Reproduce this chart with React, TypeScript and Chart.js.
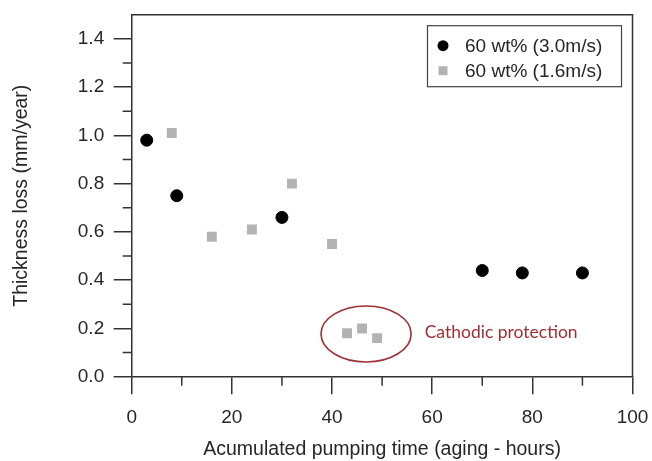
import React, { useEffect, useRef } from 'react';
import { Chart, registerables } from 'chart.js';

Chart.register(...registerables);

// ---- data ----
const seriesLabels = ['60 wt% (3.0m/s)', '60 wt% (1.6m/s)'];
const fastX = [3, 9, 30, 70, 78, 90];
const fastY = [0.98, 0.75, 0.66, 0.44, 0.43, 0.43];
const slowX = [8, 16, 24, 32, 40, 43, 46, 49];
const slowY = [1.01, 0.58, 0.61, 0.8, 0.55, 0.18, 0.2, 0.16];
const xTicks = [0, 20, 40, 60, 80, 100];
const xMinorTicks = [10, 30, 50, 70, 90];
const yTicks = [0, 0.2, 0.4, 0.6, 0.8, 1.0, 1.2, 1.4];
const yMinorTicks = [0.1, 0.3, 0.5, 0.7, 0.9, 1.1, 1.3];
const xTitle = 'Acumulated pumping time (aging - hours)';
const yTitle = 'Thickness loss (mm/year)';
const noteText = 'Cathodic protection';
// annotation (data coordinates)
const noteEllipse = { x: 46.8, y: 0.177, rx: 9, ry: 0.116 };
const noteTextPos = { x: 58.5, y: 0.183 };

const FONT = "'Liberation Sans', Arial, sans-serif";
const TEXT = '#262626';
const AXIS = '#333333';
const BLACK = '#000000';
const GRAY = '#b3b3b3';
const NOTE = '#9e3035';

const decorPlugin = {
  id: 'decor',
  afterDraw(chart: any) {
    const ctx = chart.ctx;
    const { left, right, top, bottom } = chart.chartArea;
    const xs = chart.scales.x;
    const ys = chart.scales.y;
    ctx.save();
    // frame top/right
    ctx.strokeStyle = AXIS;
    ctx.lineWidth = 1.5;
    ctx.beginPath();
    ctx.moveTo(left, top);
    ctx.lineTo(right, top);
    ctx.lineTo(right, bottom);
    ctx.stroke();
    // minor ticks
    ctx.beginPath();
    xMinorTicks.forEach((v) => {
      const px = xs.getPixelForValue(v);
      ctx.moveTo(px, bottom);
      ctx.lineTo(px, bottom + 9);
    });
    yMinorTicks.forEach((v) => {
      const py = ys.getPixelForValue(v);
      ctx.moveTo(left, py);
      ctx.lineTo(left - 9, py);
    });
    ctx.stroke();

    // annotation ellipse + text
    const cx = xs.getPixelForValue(noteEllipse.x);
    const cy = ys.getPixelForValue(noteEllipse.y);
    const rx = Math.abs(xs.getPixelForValue(noteEllipse.x + noteEllipse.rx) - cx);
    const ry = Math.abs(ys.getPixelForValue(noteEllipse.y + noteEllipse.ry) - cy);
    ctx.strokeStyle = NOTE;
    ctx.lineWidth = 1.6;
    ctx.beginPath();
    ctx.ellipse(cx, cy, rx, ry, 0, 0, Math.PI * 2);
    ctx.stroke();
    ctx.fillStyle = NOTE;
    ctx.font = "17.5px Lato, 'Open Sans', sans-serif";
    ctx.textAlign = 'left';
    ctx.textBaseline = 'middle';
    ctx.fillText(noteText, xs.getPixelForValue(noteTextPos.x), ys.getPixelForValue(noteTextPos.y));

    // legend box
    const bw = 194, bh = 61;
    const bx = right - 11 - bw;
    const by = top + 11;
    ctx.fillStyle = '#ffffff';
    ctx.fillRect(bx, by, bw, bh);
    ctx.strokeStyle = '#444444';
    ctx.lineWidth = 1.2;
    ctx.strokeRect(bx, by, bw, bh);
    chart.data.datasets.forEach((ds: any, i: number) => {
      const my = by + 20 + i * 25;
      const mx = bx + 15.5;
      ctx.fillStyle = ds.backgroundColor;
      if (ds.pointStyle === 'rect') {
        ctx.fillRect(mx - 4.5, my - 4.5, 9, 9);
      } else {
        ctx.beginPath();
        ctx.arc(mx, my, 5.5, 0, Math.PI * 2);
        ctx.fill();
      }
      ctx.fillStyle = TEXT;
      ctx.font = `19px ${FONT}`;
      ctx.textAlign = 'left';
      ctx.textBaseline = 'middle';
      ctx.fillText(ds.label, bx + 37.5, my + 1);
    });
    ctx.restore();
  },
};

export default function App() {
  const ref = useRef<HTMLCanvasElement>(null);
  useEffect(() => {
    if (!ref.current) return;
    const chart = new Chart(ref.current, {
      type: 'scatter',
      data: {
        datasets: [
          {
            label: seriesLabels[0],
            data: fastX.map((x, i) => ({ x, y: fastY[i] })),
            backgroundColor: BLACK,
            borderColor: BLACK,
            pointStyle: 'circle',
            pointRadius: 6,
            pointBorderWidth: 1,
          },
          {
            label: seriesLabels[1],
            data: slowX.map((x, i) => ({ x, y: slowY[i] })),
            backgroundColor: GRAY,
            borderColor: GRAY,
            pointStyle: 'rect',
            pointRadius: 7,
            pointBorderWidth: 0,
          },
        ],
      },
      options: {
        responsive: false,
        animation: false,
        layout: { padding: { top: 14.7, right: 19.5, left: 0, bottom: 0 } },
        plugins: {
          legend: { display: false },
          tooltip: { enabled: false },
        },
        scales: {
          x: {
            type: 'linear',
            min: 0,
            max: 100,
            afterBuildTicks: (s: any) => {
              s.ticks = xTicks.map((v) => ({ value: v }));
            },
            afterFit: (s: any) => {
              s.height = 84.3;
              s.paddingLeft = 0;
              s.paddingRight = 0;
            },
            grid: {
              display: true,
              drawOnChartArea: false,
              drawTicks: true,
              tickLength: 17.5,
              color: AXIS,
              lineWidth: 1.5,
            },
            border: { display: true, color: AXIS, width: 1.5 },
            ticks: {
              padding: 12.5,
              color: TEXT,
              font: { family: FONT, size: 19 },
              maxRotation: 0,
              callback: (v: any) => String(v),
            },
            title: {
              display: true,
              text: xTitle,
              color: TEXT,
              font: { family: FONT, size: 19.5 },
              padding: { top: 0, bottom: 0 },
            },
          },
          y: {
            type: 'linear',
            min: 0,
            max: 1.5,
            afterBuildTicks: (s: any) => {
              s.ticks = yTicks.map((v) => ({ value: v }));
            },
            afterFit: (s: any) => {
              s.width = 131.7;
              s.paddingTop = 0;
              s.paddingBottom = 0;
            },
            grid: {
              display: true,
              drawOnChartArea: false,
              drawTicks: true,
              tickLength: 18,
              color: AXIS,
              lineWidth: 1.5,
            },
            border: { display: true, color: AXIS, width: 1.5 },
            ticks: {
              padding: 9.5,
              color: TEXT,
              font: { family: FONT, size: 19 },
              callback: (v: any) => Number(v).toFixed(1),
            },
            title: {
              display: true,
              text: yTitle,
              color: TEXT,
              font: { family: FONT, size: 19.5 },
              padding: { top: 9.5, bottom: 0 },
            },
          },
        },
      },
      plugins: [decorPlugin],
    });
    return () => chart.destroy();
  }, []);
  return (
    <div style={{ position: 'fixed', left: 0, top: 0, width: 652, height: 461, background: '#fff' }}>
      <canvas ref={ref} width={652} height={461} />
    </div>
  );
}
